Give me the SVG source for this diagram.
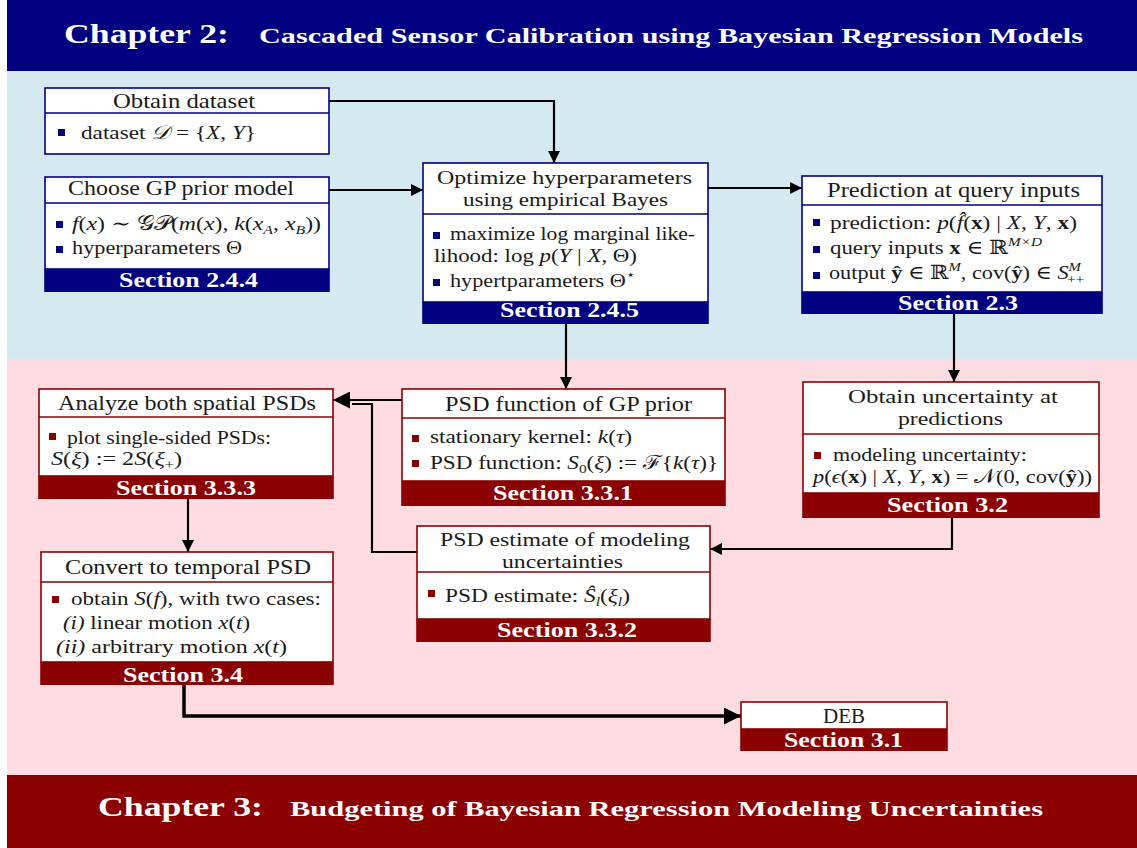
<svg xmlns="http://www.w3.org/2000/svg" width="1137" height="848" viewBox="0 0 1137 848">
<style>
text{font-family:"Liberation Serif","DejaVu Serif",serif;fill:#1a1a1a}
.tt{font-size:21px}
.t2{font-size:19.5px}
.bd{font-size:19.5px}
.sc{font-size:21px;font-weight:bold;fill:#fff}
.hd{font-weight:bold;fill:#fff}
.i{font-style:italic}
.b{font-weight:bold}
.sub{font-size:13px}
.bb rect.box{fill:#fff;stroke:#000080;stroke-width:1.6}
.bb line{stroke:#000080;stroke-width:1.6}
.bb .bar,.bb .bul{fill:#000080}
.rb rect.box{fill:#fff;stroke:#8b0000;stroke-width:1.6}
.rb line{stroke:#8b0000;stroke-width:1.6}
.rb .bar,.rb .bul{fill:#8b0000}
.cn path{fill:none;stroke:#000;stroke-width:2.2}
.cn path.thick{stroke-width:3.5}
</style>
<defs>
<marker id="ah" viewBox="0 0 10 10" refX="10" refY="5" markerUnits="userSpaceOnUse" markerWidth="19" markerHeight="12" orient="auto"><path d="M0,0 L10,5 L0,10 z" fill="#000"/></marker>
<marker id="ahL" viewBox="0 0 10 10" refX="10" refY="5" markerUnits="userSpaceOnUse" markerWidth="25" markerHeight="17" orient="auto"><path d="M0,0 L10,5 L0,10 z" fill="#000"/></marker>
</defs>
<rect x="0" y="0" width="1137" height="848" fill="#fff"/>
<rect x="7" y="0" width="1130" height="71" fill="#000080"/>
<rect x="7" y="71" width="1130" height="288" fill="#d5e9f1"/>
<rect x="7" y="359" width="1130" height="416" fill="#ffdbe2"/>
<rect x="7" y="775" width="1130" height="73" fill="#8b0000"/>
<g id="header">
<text class="hd" x="64" y="43" font-size="27" textLength="165" lengthAdjust="spacingAndGlyphs">Chapter 2:</text>
<text class="hd" x="259" y="43" font-size="21" textLength="824" lengthAdjust="spacingAndGlyphs">Cascaded Sensor Calibration using Bayesian Regression Models</text>
</g>
<g id="footer">
<text class="hd" x="98" y="816" font-size="27" textLength="165" lengthAdjust="spacingAndGlyphs">Chapter 3:</text>
<text class="hd" x="290" y="816" font-size="21" textLength="753" lengthAdjust="spacingAndGlyphs">Budgeting of Bayesian Regression Modeling Uncertainties</text>
</g>

<g class="cn" id="connectors">
<path d="M329,101 H554 V163" marker-end="url(#ah)"/>
<path d="M329,190 H423" marker-end="url(#ah)"/>
<path d="M708,188 H802" marker-end="url(#ah)"/>
<path d="M566,324 V389" marker-end="url(#ah)"/>
<path d="M954,314 V382" marker-end="url(#ah)"/>
<path d="M952,518 V549 H710" marker-end="url(#ah)"/>
<path d="M402,400 H333" marker-end="url(#ahL)"/>
<path d="M417,552 H372 V404 H352"/>
<path d="M188,499 V552" marker-end="url(#ah)"/>
<path class="thick" d="M184,685 V716 H741" marker-end="url(#ahL)"/>
</g>

<g id="n-obtain-dataset" class="bb">
<rect class="box" x="45" y="88" width="284" height="66"/>
<line x1="45" y1="113" x2="329" y2="113"/>
<text class="tt" x="113" y="108" textLength="142" lengthAdjust="spacingAndGlyphs">Obtain dataset</text>
<rect class="bul" x="58" y="129" width="7" height="7"/>
<text class="bd" x="81" y="139" textLength="175" lengthAdjust="spacingAndGlyphs">dataset <tspan class="i">𝒟</tspan> = {<tspan class="i">X</tspan>, <tspan class="i">Y</tspan>}</text>
</g>

<g id="n-gp-prior" class="bb">
<rect class="box" x="45" y="177" width="284" height="92"/>
<line x1="45" y1="203" x2="329" y2="203"/>
<rect class="bar" x="44.2" y="269" width="285.6" height="23"/>
<text class="tt" x="68" y="195" textLength="226" lengthAdjust="spacingAndGlyphs">Choose GP prior model</text>
<rect class="bul" x="56" y="221" width="7" height="7"/>
<text class="bd" x="72" y="230" textLength="249" lengthAdjust="spacingAndGlyphs"><tspan class="i">f</tspan>(<tspan class="i">x</tspan>) ∼ 𝒢𝒫(<tspan class="i">m</tspan>(<tspan class="i">x</tspan>), <tspan class="i">k</tspan>(<tspan class="i">x</tspan><tspan class="sub i" dy="4">A</tspan><tspan dy="-4">, </tspan><tspan class="i">x</tspan><tspan class="sub i" dy="4">B</tspan><tspan dy="-4">))</tspan></text>
<rect class="bul" x="56" y="246" width="7" height="7"/>
<text class="bd" x="72" y="254" textLength="170" lengthAdjust="spacingAndGlyphs">hyperparameters Θ</text>
<text class="sc" x="119" y="287" textLength="139" lengthAdjust="spacingAndGlyphs">Section 2.4.4</text>
</g>

<g id="n-optimize" class="bb">
<rect class="box" x="423" y="163" width="285" height="139"/>
<line x1="423" y1="214" x2="708" y2="214"/>
<rect class="bar" x="422.2" y="302" width="286.6" height="22"/>
<text class="t2" x="437" y="184" textLength="255" lengthAdjust="spacingAndGlyphs">Optimize hyperparameters</text>
<text class="t2" x="463" y="206" textLength="205" lengthAdjust="spacingAndGlyphs">using empirical Bayes</text>
<rect class="bul" x="433" y="232" width="7" height="7"/>
<text class="bd" x="450" y="240" textLength="245" lengthAdjust="spacingAndGlyphs">maximize log marginal like-</text>
<text class="bd" x="434" y="262" textLength="203" lengthAdjust="spacingAndGlyphs">lihood: log <tspan class="i">p</tspan>(<tspan class="i">Y</tspan> | <tspan class="i">X</tspan>, Θ)</text>
<rect class="bul" x="433" y="279" width="7" height="7"/>
<text class="bd" x="450" y="287" textLength="185" lengthAdjust="spacingAndGlyphs">hypertparameters Θ<tspan class="sub" dy="-8">⋆</tspan></text>
<text class="sc" x="500" y="317" textLength="139" lengthAdjust="spacingAndGlyphs">Section 2.4.5</text>
</g>

<g id="n-prediction" class="bb">
<rect class="box" x="802" y="176" width="300" height="116"/>
<line x1="802" y1="205" x2="1102" y2="205"/>
<rect class="bar" x="801.2" y="292" width="301.6" height="22"/>
<text class="tt" x="827" y="197" textLength="253" lengthAdjust="spacingAndGlyphs">Prediction at query inputs</text>
<rect class="bul" x="813" y="219" width="7" height="7"/>
<text class="bd" x="830" y="229" textLength="247" lengthAdjust="spacingAndGlyphs">prediction: <tspan class="i">p</tspan>(<tspan class="i">f̂</tspan>(<tspan class="b">x</tspan>) | <tspan class="i">X</tspan>, <tspan class="i">Y</tspan>, <tspan class="b">x</tspan>)</text>
<rect class="bul" x="813" y="246" width="7" height="7"/>
<text class="bd" x="830" y="254" textLength="212" lengthAdjust="spacingAndGlyphs">query inputs <tspan class="b">x</tspan> ∈ ℝ<tspan class="sub i" dy="-8">M×D</tspan></text>
<rect class="bul" x="813" y="272" width="7" height="7"/>
<text class="bd" x="829" y="279" textLength="255" lengthAdjust="spacingAndGlyphs">output <tspan class="b">ŷ</tspan> ∈ ℝ<tspan class="sub i" dy="-8">M</tspan><tspan dy="8">, cov(</tspan><tspan class="b">ŷ</tspan>) ∈ <tspan class="i">S</tspan><tspan class="sub i" dy="-8">M</tspan><tspan class="sub" dx="-12" dy="13">++</tspan></text>
<text class="sc" x="898" y="310" textLength="120" lengthAdjust="spacingAndGlyphs">Section 2.3</text>
</g>

<g id="n-analyze" class="rb">
<rect class="box" x="39" y="389" width="294" height="87"/>
<line x1="39" y1="417" x2="333" y2="417"/>
<rect class="bar" x="38.2" y="476" width="295.6" height="23"/>
<text class="tt" x="58" y="410" textLength="258" lengthAdjust="spacingAndGlyphs">Analyze both spatial PSDs</text>
<rect class="bul" x="49" y="433" width="7" height="7"/>
<text class="bd" x="67" y="444" textLength="204" lengthAdjust="spacingAndGlyphs">plot single-sided PSDs:</text>
<text class="bd" x="51" y="465" textLength="131" lengthAdjust="spacingAndGlyphs"><tspan class="i">S</tspan>(<tspan class="i">ξ</tspan>) := 2<tspan class="i">S</tspan>(<tspan class="i">ξ</tspan><tspan class="sub" dy="4">+</tspan><tspan dy="-4">)</tspan></text>
<text class="sc" x="116" y="495" textLength="140" lengthAdjust="spacingAndGlyphs">Section 3.3.3</text>
</g>

<g id="n-convert" class="rb">
<rect class="box" x="41" y="552" width="292" height="110"/>
<line x1="41" y1="582" x2="333" y2="582"/>
<rect class="bar" x="40.2" y="662" width="293.6" height="23"/>
<text class="tt" x="65" y="574" textLength="246" lengthAdjust="spacingAndGlyphs">Convert to temporal PSD</text>
<rect class="bul" x="52" y="596" width="7" height="7"/>
<text class="bd" x="71" y="605" textLength="250" lengthAdjust="spacingAndGlyphs">obtain <tspan class="i">S</tspan>(<tspan class="i">f</tspan>), with two cases:</text>
<text class="bd" x="63" y="629" textLength="187" lengthAdjust="spacingAndGlyphs"><tspan class="i">(i)</tspan> linear motion <tspan class="i">x</tspan>(<tspan class="i">t</tspan>)</text>
<text class="bd" x="56" y="653" textLength="231" lengthAdjust="spacingAndGlyphs"><tspan class="i">(ii)</tspan> arbitrary motion <tspan class="i">x</tspan>(<tspan class="i">t</tspan>)</text>
<text class="sc" x="123" y="682" textLength="120" lengthAdjust="spacingAndGlyphs">Section 3.4</text>
</g>

<g id="n-psd-function" class="rb">
<rect class="box" x="402" y="389" width="323" height="92"/>
<line x1="402" y1="418" x2="725" y2="418"/>
<rect class="bar" x="401.2" y="481" width="324.6" height="25"/>
<text class="tt" x="445" y="411" textLength="247" lengthAdjust="spacingAndGlyphs">PSD function of GP prior</text>
<rect class="bul" x="412" y="435" width="7" height="7"/>
<text class="bd" x="430" y="443" textLength="202" lengthAdjust="spacingAndGlyphs">stationary kernel: <tspan class="i">k</tspan>(<tspan class="i">τ</tspan>)</text>
<rect class="bul" x="412" y="460" width="7" height="7"/>
<text class="bd" x="430" y="469" textLength="288" lengthAdjust="spacingAndGlyphs">PSD function: <tspan class="i">S</tspan><tspan class="sub" dy="4">0</tspan><tspan dy="-4">(</tspan><tspan class="i">ξ</tspan>) := ℱ{<tspan class="i">k</tspan>(<tspan class="i">τ</tspan>)}</text>
<text class="sc" x="493" y="500" textLength="140" lengthAdjust="spacingAndGlyphs">Section 3.3.1</text>
</g>

<g id="n-psd-estimate" class="rb">
<rect class="box" x="417" y="526" width="293" height="93"/>
<line x1="417" y1="572" x2="710" y2="572"/>
<rect class="bar" x="416.2" y="619" width="294.6" height="23"/>
<text class="t2" x="440" y="546" textLength="250" lengthAdjust="spacingAndGlyphs">PSD estimate of modeling</text>
<text class="t2" x="502" y="568" textLength="121" lengthAdjust="spacingAndGlyphs">uncertainties</text>
<rect class="bul" x="428" y="590" width="7" height="7"/>
<text class="bd" x="445" y="602" textLength="185" lengthAdjust="spacingAndGlyphs">PSD estimate: <tspan class="i">Ŝ</tspan><tspan class="sub i" dy="4">l</tspan><tspan dy="-4">(</tspan><tspan class="i">ξ</tspan><tspan class="sub i" dy="4">l</tspan><tspan dy="-4">)</tspan></text>
<text class="sc" x="497" y="637" textLength="140" lengthAdjust="spacingAndGlyphs">Section 3.3.2</text>
</g>

<g id="n-uncertainty" class="rb">
<rect class="box" x="803" y="382" width="296" height="111"/>
<line x1="803" y1="434" x2="1099" y2="434"/>
<rect class="bar" x="802.2" y="493" width="297.6" height="25"/>
<text class="t2" x="848" y="403" textLength="210" lengthAdjust="spacingAndGlyphs">Obtain uncertainty at</text>
<text class="t2" x="898" y="425" textLength="105" lengthAdjust="spacingAndGlyphs">predictions</text>
<rect class="bul" x="814" y="452" width="7" height="7"/>
<text class="bd" x="833" y="461" textLength="194" lengthAdjust="spacingAndGlyphs">modeling uncertainty:</text>
<text class="bd" x="813" y="483" textLength="279" lengthAdjust="spacingAndGlyphs"><tspan class="i">p</tspan>(<tspan class="i">ϵ</tspan>(<tspan class="b">x</tspan>) | <tspan class="i">X</tspan>, <tspan class="i">Y</tspan>, <tspan class="b">x</tspan>) = 𝒩(0, cov(<tspan class="b">ŷ</tspan>))</text>
<text class="sc" x="887" y="512" textLength="121" lengthAdjust="spacingAndGlyphs">Section 3.2</text>
</g>

<g id="n-deb" class="rb">
<rect class="box" x="741" y="702" width="206" height="27"/>
<rect class="bar" x="740.2" y="729" width="207.6" height="22"/>
<text class="tt" x="844" y="723" text-anchor="middle" font-size="19">DEB</text>
<text class="sc" x="784" y="747" textLength="119" lengthAdjust="spacingAndGlyphs" font-size="20">Section 3.1</text>
</g>
</svg>
